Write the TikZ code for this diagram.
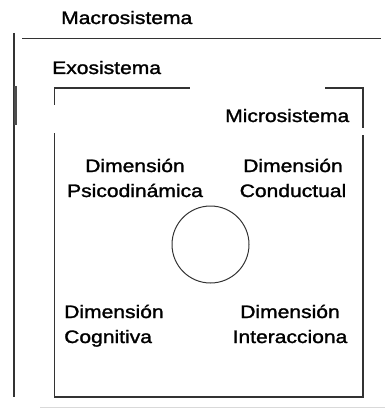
\documentclass[tikz,border=0pt]{standalone}
\usepackage{fontspec}
\setmainfont{Liberation Sans}[FakeStretch = 1.17, FakeBold = 1.5]
\begin{document}
\begin{tikzpicture}[x = 1pt, y = -1pt,
    frame/.style = {line width = 1.2pt, black!80},
    label/.style = {inner sep = 0pt, text = black,
                    font = \fontsize{18}{25}\selectfont},
    dimension/.style = {label, align = center}]
  \useasboundingbox (0,0) rectangle (390,409);
  % macrosistema
  \node [label, anchor = base west] (macro) at (61,24) {Macrosistema};
  \draw [frame] (14,33) -- (14,397);
  \draw [line width = 3pt, black!70] (15.5,86) -- (15.5,125);
  \draw [frame] (22,38.5) -- (381,38.5);
  \draw [line width = .8pt, gray!30] (40,407) -- (385,407);
  % exosistema
  \node [label, anchor = base west] (exo) at (52,74) {Exosistema};
  \draw [frame] (54.5,105) -- (54.5,88) -- (190,88);
  \draw [frame] (325,88) -- (363,88) -- (363,128);
  \draw [frame] (363,135) -- (363,397) -- (54.5,397) -- (54.5,133);
  % microsistema
  \node [label, anchor = base west] (micro) at (225,122) {Microsistema};
  \node [dimension, anchor = base] (psico) at (135,197)
    {Dimensión\\Psicodinámica};
  \node [dimension, anchor = base] (conducta) at (293,197)
    {Dimensión\\Conductual};
  \node [dimension, align = left, anchor = base west] (cognitiva) at (64,343)
    {Dimensión\\Cognitiva};
  \node [dimension, anchor = base] (interaccion) at (290,343)
    {Dimensión\\Interacciona};
  \node [draw, circle, line width = 1pt, black!80,
         minimum size = 77pt, inner sep = 0pt] (centro) at (210.5,244.5) {};
\end{tikzpicture}
\end{document}
